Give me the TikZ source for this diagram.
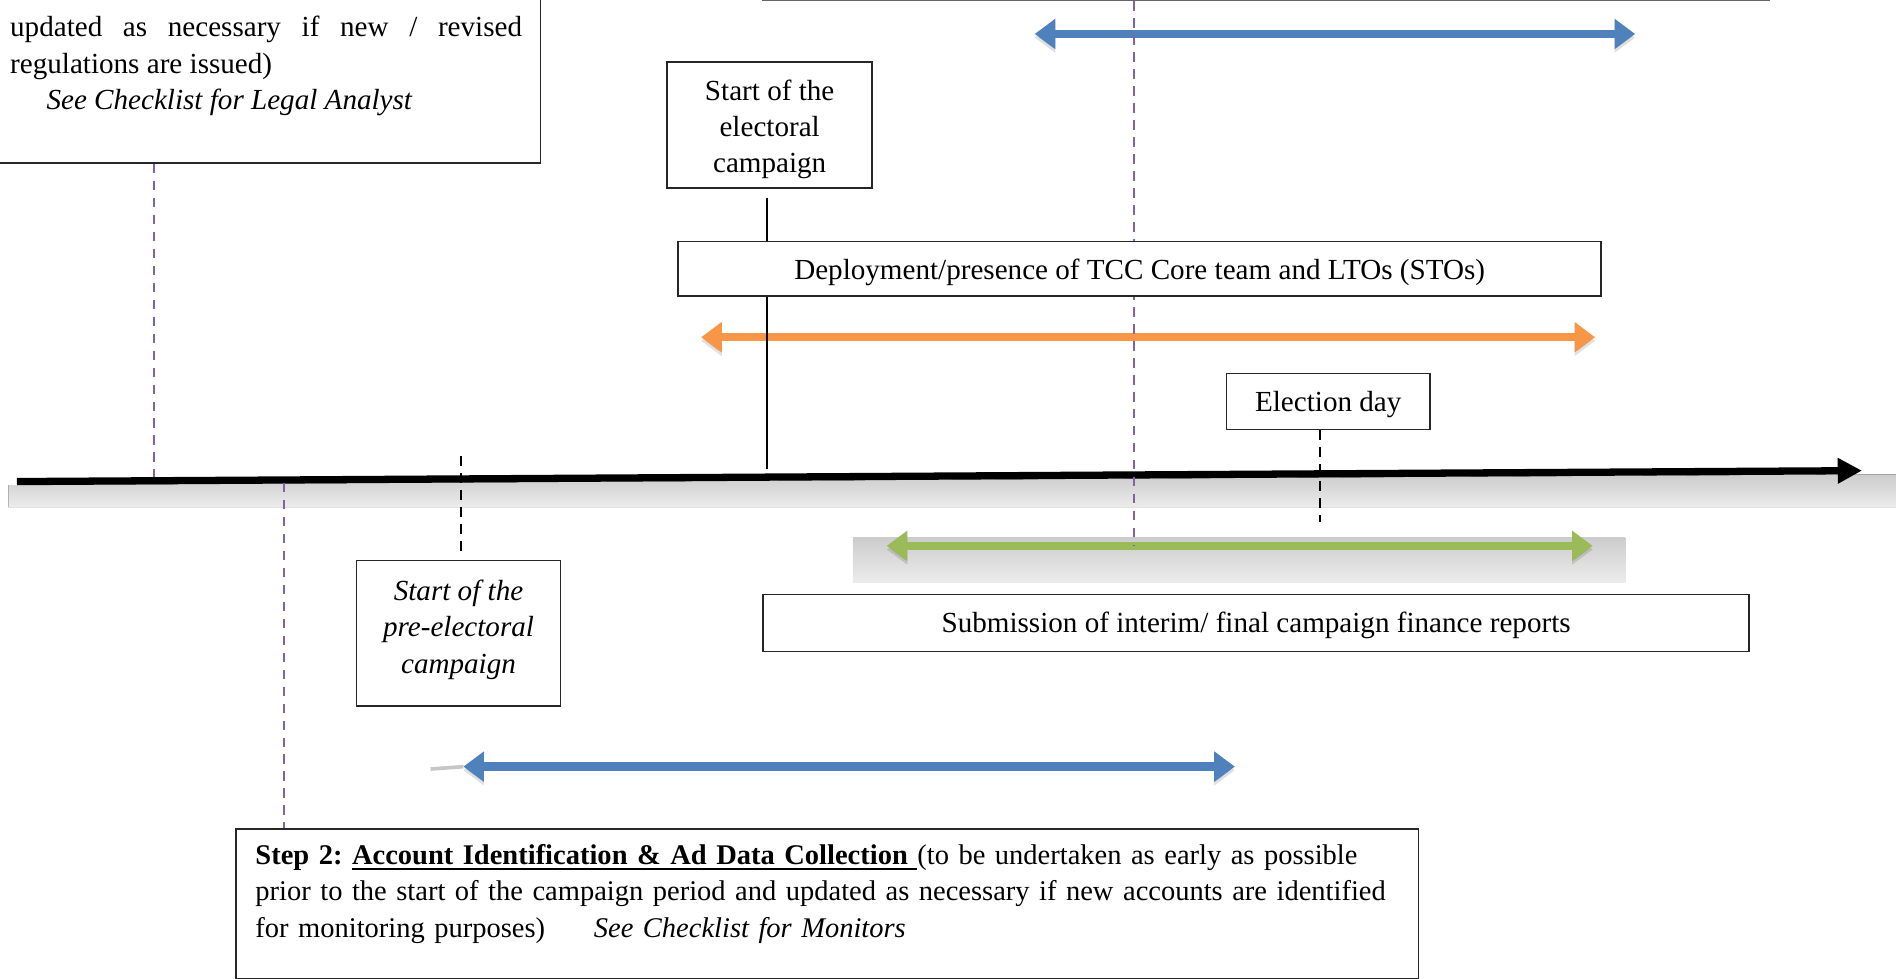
\documentclass[tikz,border=0pt]{standalone}
\usepackage{fontspec}
\setmainfont{Liberation Serif}
\usetikzlibrary{arrows.meta,backgrounds}
\definecolor{spanblue}{HTML}{4F81BD}
\definecolor{spanorange}{HTML}{F79646}
\definecolor{spangreen}{HTML}{9BBB59}
\definecolor{tickpurple}{HTML}{8064A2}
\newsavebox{\ulsave}
\newcommand{\ulbold}[1]{\sbox{\ulsave}{#1}\rlap{\rule[-2.2pt]{\wd\ulsave}{0.9pt}}\usebox{\ulsave}}
\frenchspacing
\begin{document}
\begin{tikzpicture}[x=0.5pt, y=-0.5pt,
	every node/.style={font=\fontsize{12}{15}\selectfont},
	box/.style={draw=black!85, fill=white, line width=0.6pt, inner sep=0pt, align=center},
	span/.style={line width=3.5pt, {Triangle[length=8.5pt,width=12pt]}-{Triangle[length=8.5pt,width=12pt]},
		preaction={draw=black, opacity=0.12, transform canvas={yshift=-1.5pt}}},
	tickline/.style={tickpurple, line width=0.6pt, dash pattern=on 4pt off 3pt},
	marker/.style={black, line width=0.8pt, dash pattern=on 4pt off 3pt},
	band/.style={top color=gray!40, bottom color=gray!15, draw=none}]
	\useasboundingbox (0,0) rectangle (1568,807);

	\node[box, anchor=south east, minimum width=233pt, minimum height=150pt] (legal) at (446,135) {};
	\node[anchor=north west, align=left, inner sep=0pt] (legaltext) at (8,13) {\makebox[211pt][s]{updated as necessary if new / revised}\\ regulations are issued)\\ \hspace*{15pt}\textit{See Checklist for Legal Analyst}};
	\node[box, draw=black!60, anchor=south west, minimum width=415pt, minimum height=60pt] (topbox) at (628,1) {};
	\node[box, minimum width=84.5pt, minimum height=52pt] (campaign) at (634.5,103) {\rule{0pt}{12.2pt}Start of the\\ electoral\\ campaign};
	\node[box, minimum width=380.5pt, minimum height=22.5pt] (deploy) at (939.5,221.5) {\rule{0pt}{11.2pt}Deployment/presence of TCC Core team and LTOs (STOs)};
	\node[box, minimum width=84pt, minimum height=23pt] (eday) at (1095,331) {\rule{0pt}{11.2pt}Election day};
	\node[box, minimum width=84pt, minimum height=60pt, text depth=5.5pt, font=\fontsize{12}{15}\selectfont\itshape] (precampaign) at (378,522) {Start of the\\ pre-electoral\\ campaign};
	\node[box, minimum width=406.5pt, minimum height=23.5pt] (reports) at (1035.5,513.5) {\rule{0pt}{10.2pt}Submission of interim/ final campaign finance reports};
	\node[box, anchor=north west, minimum width=487.5pt, minimum height=61.5pt, text width=471.5pt, align=left, inner xsep=8pt, text depth=40.7pt, font=\fontsize{11.75}{15}\selectfont] (step2) at (194,683) {\mbox{\textbf{Step 2:} \ulbold{\textbf{Account Identification \& Ad Data Collection }}(to be undertaken as early as possible}\\ \mbox{prior to the start of the campaign period and updated as necessary if new accounts are identified}\\ \mbox{\makebox[139.5pt][l]{for monitoring purposes)}\textit{See Checklist for Monitors}}};

	\coordinate (tstart) at (14,397);
	\coordinate (tend) at (1535,388);
	\coordinate (tLegal) at (127,393);
	\coordinate (tMon) at (234,398);
	\coordinate (tMid) at (935,450);
	\coordinate (tCamp) at (632,387);
	\coordinate (campFoot) at (632,163);
	\coordinate (preTop) at (380,376);
	\coordinate (preFoot) at (380,455);
	\coordinate (tDay) at (1088,430);
	\coordinate (blueA) at (853,28);
	\coordinate (blueB) at (1348,28);
	\coordinate (orangeA) at (578,278);
	\coordinate (orangeB) at (1315,278);
	\coordinate (greenA) at (731,450);
	\coordinate (greenB) at (1313,450);
	\coordinate (monA) at (382,632);
	\coordinate (monB) at (1018,632);

	\begin{scope}[on background layer]
		\fill[band] (7,400) -- (1563,391) -- (1563,418) -- (7,418) -- cycle;
		\fill[band] (703,443) rectangle (1340,480);
		\draw[gray!45, line width=1.5pt] (355,634) -- (monA);

		\draw[span, spanblue] (blueA) -- (blueB);
		\draw[span, spanorange] (orangeA) -- (orangeB);
		\draw[span, spangreen] (greenA) -- (greenB);
		\draw[span, spanblue] (monA) -- (monB);

		\draw[line width=3pt, -{Triangle[length=10pt,width=10pt]}] (tstart) -- (tend);

		\draw[tickline] (legal.south -| tLegal) -- (tLegal);
		\draw[tickline] (tMon) -- (step2.north -| tMon);
		\draw[tickline] (topbox.south -| tMid) -- (tMid);
		\draw[line width=0.8pt] (campFoot) -- (tCamp);
		\draw[marker] (preTop) -- (preFoot);
		\draw[marker] (eday.south -| tDay) -- (tDay);
	\end{scope}
\end{tikzpicture}
\end{document}
